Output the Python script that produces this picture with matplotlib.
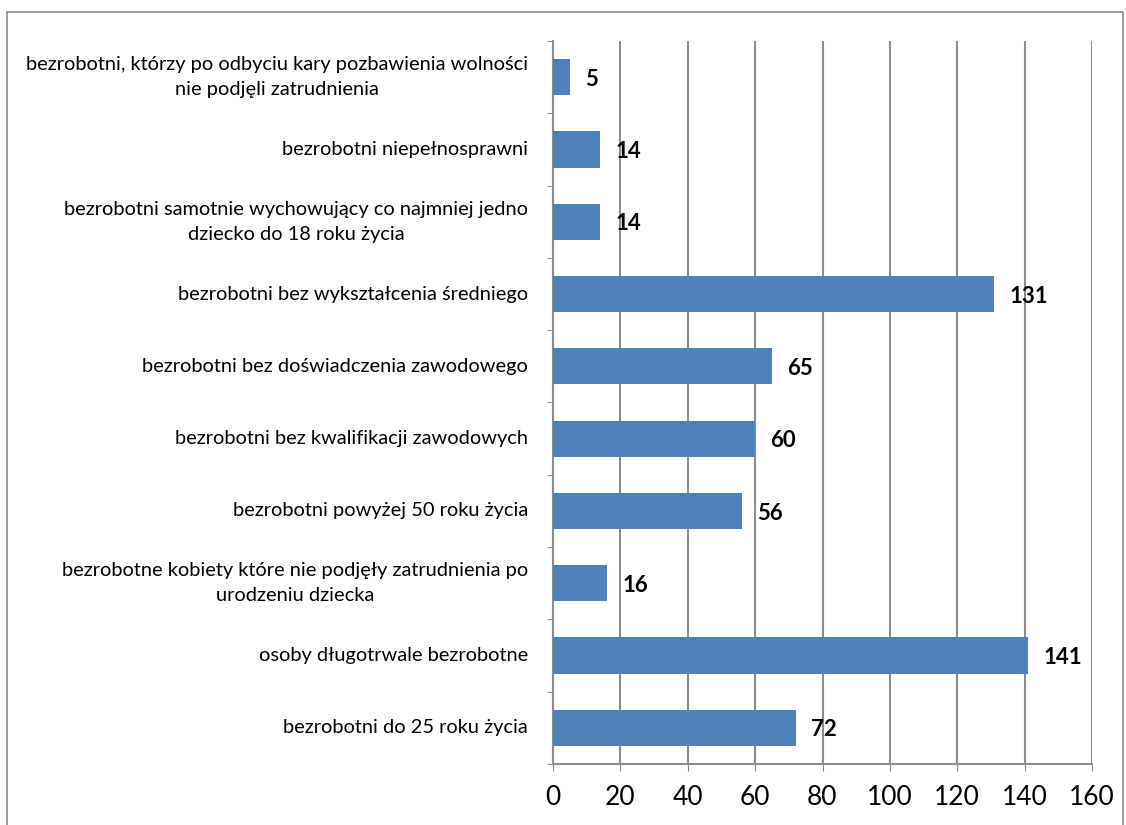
import matplotlib

matplotlib.use("Agg")
import matplotlib.pyplot as plt  # noqa: E402
from matplotlib.patches import Rectangle  # noqa: E402

# categories listed top to bottom, as in the reference
categories = [
    "bezrobotni, którzy po odbyciu kary pozbawienia wolności\nnie podjęli zatrudnienia",
    "bezrobotni niepełnosprawni",
    "bezrobotni samotnie wychowujący co najmniej jedno\ndziecko do 18 roku życia",
    "bezrobotni bez wykształcenia średniego",
    "bezrobotni bez doświadczenia zawodowego",
    "bezrobotni bez kwalifikacji zawodowych",
    "bezrobotni powyżej 50 roku życia",
    "bezrobotne kobiety które nie podjęły zatrudnienia po\nurodzeniu dziecka",
    "osoby długotrwale bezrobotne",
    "bezrobotni do 25 roku życia",
]
values = [5, 14, 14, 131, 65, 60, 56, 16, 141, 72]
x_ticks = [0, 20, 40, 60, 80, 100, 120, 140, 160]

BAR = "#4f81bd"
GRID = "#8c8c8c"

plt.rcParams["font.family"] = ["Lato", "DejaVu Sans"]

fig = plt.figure(figsize=(11.26, 8.25), dpi=100)
ax = fig.add_axes([553 / 1126, 1 - 764 / 825, (1092 - 553) / 1126, (764 - 41) / 825])

n = len(categories)
ypos = list(range(n - 1, -1, -1))
ax.barh(ypos, values, height=0.5, color=BAR, zorder=3)
for y, v in zip(ypos, values):
    ax.annotate(str(v), (v, y), xytext=(11, -1.5), textcoords="offset points",
                ha="left", va="center", fontsize=16, fontweight="bold", zorder=4)

ax.set_xlim(0, 160)
ax.set_ylim(-0.5, n - 0.5)
ax.set_xticks(x_ticks)
ax.tick_params(axis="x", labelsize=19, length=5, color=GRID, pad=10)
ax.xaxis.grid(True, color=GRID, lw=1.5, zorder=0)

# tick marks on band edges, category labels centred in their bands
ax.set_yticks([i - 0.5 for i in range(n + 1)])
ax.set_yticklabels([])
ax.tick_params(axis="y", length=4, color=GRID)
ax.set_yticks(ypos, minor=True)
ax.set_yticklabels(categories, minor=True, fontsize=14.4, multialignment="center",
                   linespacing=1.6, va="center")
ax.tick_params(axis="y", which="minor", length=0, pad=18)

for side in ("top", "right"):
    ax.spines[side].set_visible(False)
for side in ("left", "bottom"):
    ax.spines[side].set_color(GRID)
    ax.spines[side].set_linewidth(1.5)

fig.patches.append(Rectangle((7 / 1126, -0.01), 1116 / 1126, 1 - 12 / 825 + 0.01,
                             transform=fig.transFigure, fill=False,
                             edgecolor="#8c8c8c", lw=1.2))

fig.savefig("out.png", dpi=100)
